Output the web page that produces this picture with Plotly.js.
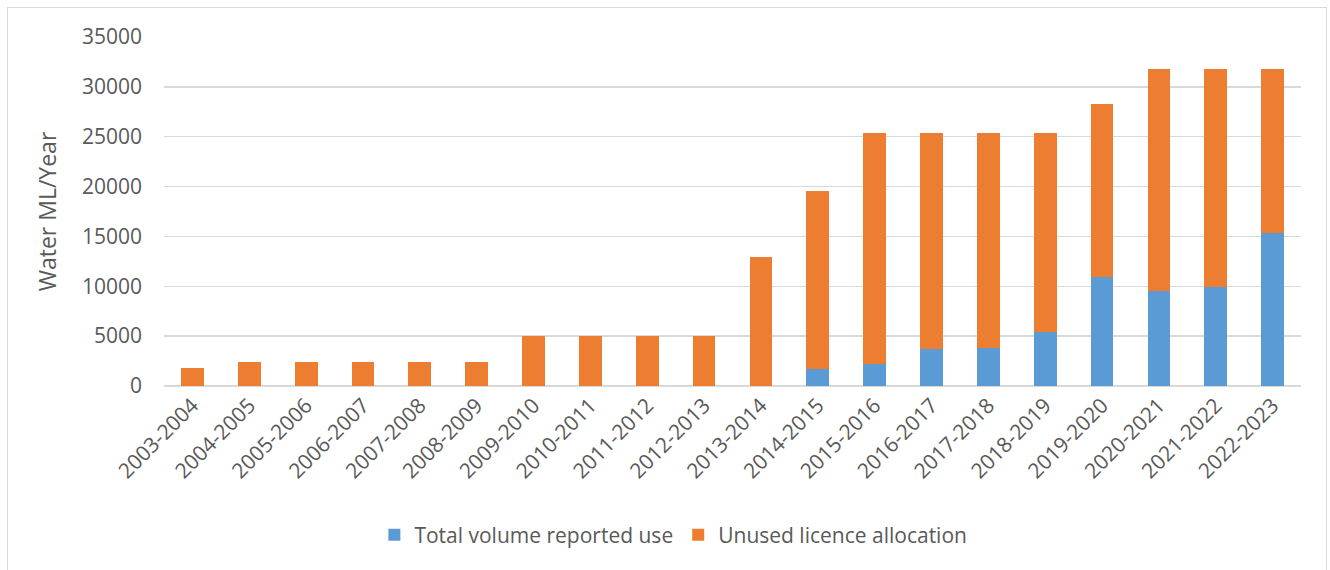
<!DOCTYPE html>
<html>
<head>
<meta charset="utf-8">
<script src="https://cdn.plot.ly/plotly-3.0.1.min.js"></script>
<style>
  html, body { margin: 0; padding: 0; background: #ffffff; }
  #wrap { position: relative; width: 1330px; height: 570px; overflow: hidden; }
  #frame { position: absolute; left: 7px; top: 7px; width: 1320px; height: 600px; border: 1.5px solid #d9d9d9; box-sizing: border-box; }
  #chart { position: absolute; left: 0; top: 0; width: 1330px; height: 570px; }
</style>
</head>
<body>
<div id="wrap">
  <div id="frame"></div>
  <div id="chart"></div>
</div>
<script>
const categories = ["2003-2004","2004-2005","2005-2006","2006-2007","2007-2008","2008-2009","2009-2010","2010-2011","2011-2012","2012-2013","2013-2014","2014-2015","2015-2016","2016-2017","2017-2018","2018-2019","2019-2020","2020-2021","2021-2022","2022-2023"];
const reportedUse = [0,0,0,0,0,0,0,0,0,0,0,1730,2200,3680,3780,5440,10890,9550,9890,15330];
const unusedAllocation = [1770,2450,2450,2450,2450,2450,5000,5000,5000,5000,12900,17810,23190,21710,21610,19950,17440,22200,21860,16420];
const yTicks = [0,5000,10000,15000,20000,25000,30000,35000];

const font = "'Open Sans', 'Liberation Sans', sans-serif";
const textColor = "#595959";

const data = [
  { type: "bar", name: "Total volume reported use", x: categories, y: reportedUse,
    marker: { color: "#5B9BD5", line: { width: 0 } } },
  { type: "bar", name: "Unused licence allocation", x: categories, y: unusedAllocation,
    marker: { color: "#ED7D31", line: { width: 0 } } }
];

const layout = {
  width: 1330, height: 570,
  barmode: "stack", bargap: 0.6,
  paper_bgcolor: "rgba(0,0,0,0)", plot_bgcolor: "rgba(0,0,0,0)",
  margin: { l: 164, r: 29, t: 37, b: 184 },
  font: { family: font, color: textColor, size: 21 },
  xaxis: {
    type: "category", tickangle: -45, showgrid: false, showline: false,
    ticks: "", ticklabelstandoff: 2, tickfont: { family: font, size: 21, color: textColor }
  },
  yaxis: {
    range: [0, 35000], tickvals: yTicks, ticktext: yTicks.map(String),
    showgrid: true, gridcolor: "#d9d9d9", gridwidth: 1.5,
    zeroline: true, zerolinecolor: "#d9d9d9", zerolinewidth: 1.5,
    showline: false, ticks: "", ticklabelstandoff: 21,
    tickfont: { family: font, size: 21, color: textColor },
    title: { text: "Water ML/Year", font: { family: font, size: 23, color: textColor }, standoff: 18 }
  },
  showlegend: true,
  legend: {
    orientation: "h", x: 0.448, xanchor: "center", y: -0.427, yanchor: "middle",
    font: { family: font, size: 21, color: textColor }, traceorder: "normal",
    bgcolor: "rgba(0,0,0,0)"
  }
};

Plotly.newPlot("chart", data, layout, { displayModeBar: false, staticPlot: true });
</script>
</body>
</html>
